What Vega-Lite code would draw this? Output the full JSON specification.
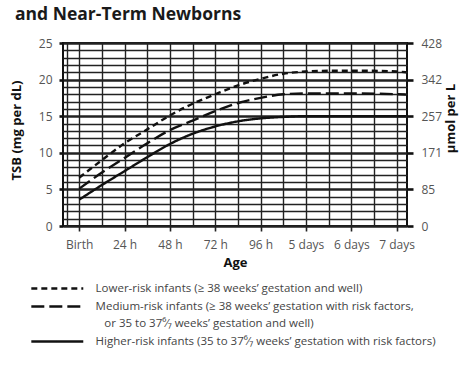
{
  "$schema": "https://vega.github.io/schema/vega-lite/v6.json",
  "width": 344,
  "height": 183,
  "autosize": {"type": "none"},
  "padding": {"left": 63, "top": 43, "right": 67, "bottom": 140},
  "background": "white",
  "title": {
    "text": "and Near-Term Newborns",
    "anchor": "start",
    "frame": "group",
    "dx": -48,
    "offset": 14,
    "font": "Open Sans",
    "fontSize": 17.5,
    "fontWeight": "bold",
    "color": "#1a1a1a"
  },
  "config": {
    "view": {"stroke": "#111", "strokeWidth": 2},
    "style": {"guide-label": {"lineHeight": 17}},
    "axis": {
      "labelFont": "Open Sans",
      "labelFontSize": 12,
      "labelColor": "#555",
      "titleFont": "Open Sans",
      "titleFontSize": 13,
      "titleFontWeight": "bold",
      "titleColor": "#111",
      "labelOverlap": false,
      "labelFlush": false
    }
  },
  "data": {
    "values": [
      {"risk": "Lower", "h": 0, "tsb": 6.6},
      {"risk": "Lower", "h": 12, "tsb": 9.0},
      {"risk": "Lower", "h": 24, "tsb": 11.3},
      {"risk": "Lower", "h": 36, "tsb": 13.2},
      {"risk": "Lower", "h": 48, "tsb": 15.1},
      {"risk": "Lower", "h": 60, "tsb": 16.7},
      {"risk": "Lower", "h": 72, "tsb": 18.0},
      {"risk": "Lower", "h": 84, "tsb": 19.2},
      {"risk": "Lower", "h": 96, "tsb": 20.1},
      {"risk": "Lower", "h": 108, "tsb": 20.8},
      {"risk": "Lower", "h": 120, "tsb": 21.1},
      {"risk": "Lower", "h": 132, "tsb": 21.2},
      {"risk": "Lower", "h": 144, "tsb": 21.2},
      {"risk": "Lower", "h": 156, "tsb": 21.2},
      {"risk": "Lower", "h": 168, "tsb": 21.1},
      {"risk": "Lower", "h": 173, "tsb": 21.0},
      {"risk": "Medium", "h": 0, "tsb": 5.1},
      {"risk": "Medium", "h": 12, "tsb": 7.3},
      {"risk": "Medium", "h": 24, "tsb": 9.3},
      {"risk": "Medium", "h": 36, "tsb": 11.3},
      {"risk": "Medium", "h": 48, "tsb": 13.1},
      {"risk": "Medium", "h": 60, "tsb": 14.4},
      {"risk": "Medium", "h": 72, "tsb": 15.7},
      {"risk": "Medium", "h": 84, "tsb": 16.8},
      {"risk": "Medium", "h": 96, "tsb": 17.5},
      {"risk": "Medium", "h": 108, "tsb": 18.0},
      {"risk": "Medium", "h": 120, "tsb": 18.1},
      {"risk": "Medium", "h": 144, "tsb": 18.1},
      {"risk": "Medium", "h": 168, "tsb": 18.0},
      {"risk": "Medium", "h": 173, "tsb": 17.95},
      {"risk": "Higher", "h": 0, "tsb": 3.6},
      {"risk": "Higher", "h": 12, "tsb": 5.6},
      {"risk": "Higher", "h": 24, "tsb": 7.5},
      {"risk": "Higher", "h": 36, "tsb": 9.4},
      {"risk": "Higher", "h": 48, "tsb": 11.2},
      {"risk": "Higher", "h": 60, "tsb": 12.6},
      {"risk": "Higher", "h": 72, "tsb": 13.6},
      {"risk": "Higher", "h": 84, "tsb": 14.3},
      {"risk": "Higher", "h": 96, "tsb": 14.7},
      {"risk": "Higher", "h": 108, "tsb": 14.9},
      {"risk": "Higher", "h": 120, "tsb": 15.0},
      {"risk": "Higher", "h": 144, "tsb": 15.0},
      {"risk": "Higher", "h": 168, "tsb": 15.0},
      {"risk": "Higher", "h": 173, "tsb": 15.0}
    ]
  },
  "encoding": {
    "x": {
      "field": "h",
      "type": "quantitative",
      "scale": {"domain": [-8.6, 173.5], "nice": false, "zero": false},
      "axis": {
        "values": [-6.5, 0, 12, 24, 36, 48, 60, 72, 84, 96, 108, 120, 132, 144, 156, 168],
        "grid": true,
        "gridColor": "#222",
        "gridWidth": 1.4,
        "domain": false,
        "tickColor": "#222",
        "tickWidth": 1.6,
        "tickSize": 5,
        "tickOpacity": {"condition": {"test": "datum.value >= 0 && datum.value % 24 == 0", "value": 1}, "value": 0},
        "labelExpr": "datum.value == 0 ? 'Birth' : (datum.value < 0 || datum.value % 24 != 0) ? '' : datum.value <= 96 ? datum.value + ' h' : (datum.value / 24) + ' days'",
        "labelPadding": 8,
        "title": "Age",
        "titlePadding": 6
      }
    },
    "y": {
      "field": "tsb",
      "type": "quantitative",
      "scale": {"domain": [0, 25], "nice": false}
    }
  },
  "layer": [
    {
      "mark": {"type": "line", "interpolate": "monotone", "strokeWidth": 2.4, "color": "#111"},
      "encoding": {
        "y": {
          "field": "tsb",
          "type": "quantitative",
          "scale": {"domain": [0, 25], "nice": false},
          "axis": {
            "values": [0, 1, 2, 3, 4, 5, 6, 7, 8, 9, 10, 11, 12, 13, 14, 15, 16, 17, 18, 19, 20, 21, 22, 23, 24, 25],
            "grid": true,
            "gridColor": "#222",
            "gridWidth": {"condition": {"test": "datum.value % 5 == 0", "value": 2.6}, "value": 1.3},
            "domain": false,
            "tickColor": "#111",
            "tickWidth": 2.6,
            "tickSize": 4,
            "tickOpacity": {"condition": {"test": "datum.value % 5 == 0", "value": 1}, "value": 0},
            "labelExpr": "datum.value % 5 == 0 ? datum.label : ''",
            "labelPadding": 7,
            "title": "TSB (mg per dL)",
            "titleX": -40,
            "titleY": 87
          }
        },
        "strokeDash": {
          "field": "risk",
          "type": "nominal",
          "scale": {"domain": ["Lower", "Medium", "Higher"], "range": [[6, 4], [13, 5], [1, 0]]},
          "legend": {
            "orient": "none",
            "legendX": -12.2,
            "legendY": 239,
            "title": null,
            "symbolType": "M-5,0H5",
            "symbolSize": 108,
            "symbolStrokeWidth": 2.5,
            "symbolStrokeColor": "#111",
            "labelFont": "Open Sans",
            "labelFontSize": 11.5,
            "labelColor": "#444",
            "labelOffset": 31.8,
            "labelLimit": 500,
            "rowPadding": 6,
            "labelExpr": "datum.value == 'Lower' ? 'Lower-risk infants (≥ 38 weeks’ gestation and well)' : datum.value == 'Medium' ? ['Medium-risk infants (≥ 38 weeks’ gestation with risk factors,', '\u200b\u2002\u00a0or 35 to 37⁶⁄₇ weeks’ gestation and well)'] : 'Higher-risk infants (35 to 37⁶⁄₇ weeks’ gestation with risk factors)'"
          }
        }
      }
    },
    {
      "mark": {"type": "line", "opacity": 0},
      "encoding": {
        "detail": {"field": "risk"},
        "y": {
          "field": "tsb",
          "type": "quantitative",
          "scale": {"domain": [0, 25], "nice": false},
          "axis": {
            "orient": "right",
            "values": [0, 5, 10, 15, 20, 25],
            "grid": false,
            "domain": false,
            "tickColor": "#111",
            "tickWidth": 2.6,
            "tickSize": 6,
            "labelPadding": 8,
            "labelExpr": "datum.value == 0 ? '0' : datum.value == 5 ? '85' : datum.value == 10 ? '171' : datum.value == 15 ? '257' : datum.value == 20 ? '342' : '428'",
            "title": "µmol per L",
            "titleAngle": 270,
            "titleX": 50,
            "titleY": 75
          }
        }
      }
    }
  ],
  "resolve": {"axis": {"y": "independent"}}
}
